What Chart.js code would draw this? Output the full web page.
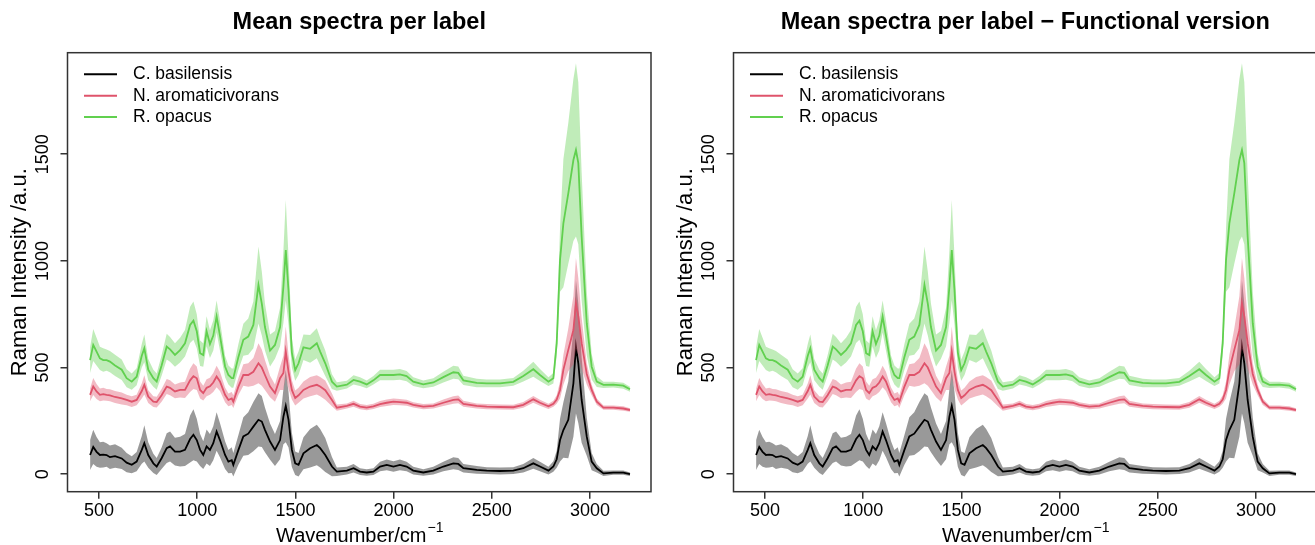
<!DOCTYPE html>
<html><head><meta charset="utf-8">
<script src="https://cdn.jsdelivr.net/npm/chart.js@4.4.1/dist/chart.umd.min.js"></script>
<style>
html,body{margin:0;padding:0;background:#fff;overflow:hidden;width:1315px;height:545px;position:relative;}
canvas{position:absolute;top:0;}
#c1{left:0px}
#c2{left:666px}
</style></head><body>
<canvas id="c1" width="667" height="545"></canvas>
<canvas id="c2" width="667" height="545"></canvas>
<script>
// ---------------- DATA ----------------
const wavenumbers = [455,471,488,505,522,539,556,582,616,641,667,692,718,731,751,777,794,819,845,862,887,913,938,964,981,998,1015,1031,1048,1065,1082,1099,1116,1142,1159,1176,1184,1210,1235,1260,1286,1312,1329,1345,1371,1396,1422,1439,1451,1465,1482,1499,1516,1541,1575,1609,1626,1652,1686,1711,1762,1796,1829,1863,1897,1931,1965,1999,2032,2066,2100,2151,2202,2253,2304,2329,2355,2423,2474,2541,2609,2660,2711,2745,2788,2813,2830,2847,2864,2889,2915,2928,2940,2957,2983,3008,3034,3068,3118,3169,3203];

const cBasilensisMean = [90,128,105,90,92,90,80,85,74,54,44,59,114,145,90,51,36,75,122,130,106,106,114,165,185,160,114,90,130,114,145,200,160,90,59,66,44,114,177,190,223,255,247,208,153,114,160,270,320,255,114,51,44,98,122,137,122,90,36,12,17,28,12,8,12,36,44,36,44,36,17,8,17,36,51,48,28,20,17,15,17,28,51,36,17,36,70,160,207,255,426,598,520,348,176,59,28,4,7,7,0];
const cBasilensisSd = [70,80,70,60,60,55,55,55,50,45,40,45,65,85,60,45,40,50,70,70,65,70,75,110,120,100,75,65,80,75,80,90,80,65,55,60,55,70,90,100,115,125,120,105,85,75,90,130,170,130,80,55,55,75,90,95,90,80,45,20,18,20,16,15,16,22,25,25,25,22,18,15,18,22,28,28,20,18,16,16,16,20,25,22,18,25,40,100,130,180,250,313,280,200,90,40,20,12,10,10,8];

const nAromaticivoransMean = [372,411,388,372,375,372,370,362,355,348,340,348,390,419,364,340,338,370,411,405,388,395,395,440,460,450,395,380,405,412,430,458,435,372,348,355,340,411,465,465,480,520,500,465,411,380,450,475,575,480,395,357,370,395,411,419,411,394,348,312,320,330,317,312,318,329,335,340,338,335,325,317,320,335,348,351,330,320,317,315,314,325,351,335,318,330,350,395,489,583,676,801,740,614,470,395,340,312,312,308,301];
const nAromaticivoransSd = [30,40,35,30,30,28,28,28,28,25,25,25,35,45,30,25,25,30,35,35,32,35,38,55,60,55,40,35,40,40,45,50,45,35,30,30,30,40,50,55,65,94,85,70,50,40,55,80,117,80,45,35,35,40,45,45,45,45,30,15,12,14,12,12,12,14,15,15,15,14,12,12,12,15,18,18,14,12,12,12,12,14,16,14,12,14,20,40,70,100,160,212,180,120,50,25,15,10,10,10,8];

const rOpacusMean = [535,606,575,543,535,535,528,510,490,450,434,457,555,590,490,450,434,510,598,585,559,582,614,700,720,670,567,559,670,610,650,739,650,505,465,450,450,550,630,645,700,887,800,690,580,606,690,880,1051,860,570,488,520,595,588,614,575,520,434,411,420,442,434,421,440,465,465,465,468,460,434,421,430,455,478,475,440,428,426,426,433,460,492,465,434,450,614,1005,1176,1317,1473,1520,1458,1114,708,504,434,419,420,415,398];
const rOpacusSd = [60,75,65,55,55,50,50,50,48,42,38,40,55,65,50,40,38,48,60,58,55,58,62,85,90,80,60,55,70,65,70,75,70,50,45,45,45,60,75,85,110,180,150,110,75,65,90,170,235,160,70,50,55,60,65,70,65,60,35,20,18,22,20,18,20,25,25,25,25,24,20,18,20,25,30,30,22,20,18,18,18,25,35,28,20,25,60,150,300,330,380,406,380,300,150,60,25,15,14,14,12];

const seriesNames = ['C. basilensis', 'N. aromaticivorans', 'R. opacus'];
const panelTitles = ['Mean spectra per label', 'Mean spectra per label \u2212 Functional version'];
const xTickValues = [500, 1000, 1500, 2000, 2500, 3000];
const yTickValues = [0, 500, 1000, 1500];
const yAxisTitle = 'Raman Intensity /a.u.';
const xAxisTitle = 'Wavenumber/cm';
const xAxisTitleSup = '\u22121';

// ---------------- STYLE ----------------
const lineColors = ['#000000', '#DF536B', '#61D04F'];
const bandColors = ['rgba(0,0,0,0.4)', 'rgba(223,83,107,0.4)', 'rgba(97,208,79,0.4)'];
const FONT = '"Liberation Sans", Arial, Helvetica, sans-serif';

function pts(vals) { return wavenumbers.map((w, i) => ({x: w, y: vals[i]})); }
function band(m, s, sign) { return wavenumbers.map((w, i) => ({x: w, y: m[i] + sign * s[i]})); }

const means = [cBasilensisMean, nAromaticivoransMean, rOpacusMean];
const sds = [cBasilensisSd, nAromaticivoransSd, rOpacusSd];

function buildDatasets() {
  const ds = [];
  for (let k = 2; k >= 0; k--) {
    ds.push({label: seriesNames[k], data: pts(means[k]), borderColor: lineColors[k], borderWidth: 1.8, pointRadius: 0, fill: false, tension: 0});
    ds.push({label: seriesNames[k] + ' upper', data: band(means[k], sds[k], 1), borderWidth: 0, borderColor: 'rgba(0,0,0,0)', backgroundColor: bandColors[k], pointRadius: 0, fill: '+1', tension: 0});
    ds.push({label: seriesNames[k] + ' lower', data: band(means[k], sds[k], -1), borderWidth: 0, borderColor: 'rgba(0,0,0,0)', pointRadius: 0, fill: false, tension: 0});
  }
  return ds;
}

const decorPlugin = {
  id: 'decor',
  afterDraw(chart, args, opts) {
    const ctx = chart.ctx, a = chart.chartArea;
    const ys = chart.scales.y;
    ctx.save();
    ctx.strokeStyle = '#333'; ctx.lineWidth = 1.5;
    ctx.strokeRect(a.left, a.top, a.right - a.left, a.bottom - a.top);
    ctx.fillStyle = '#000';
    ctx.textAlign = 'center'; ctx.textBaseline = 'middle';
    ctx.font = 'bold 23.5px ' + FONT;
    ctx.fillText(opts.title, (a.left + a.right) / 2, 23);
    ctx.font = '18px ' + FONT;
    yTickValues.forEach(v => {
      const y = ys.getPixelForValue(v);
      ctx.save(); ctx.translate(43, y); ctx.rotate(-Math.PI / 2);
      ctx.fillText(String(v), 0, 0); ctx.restore();
    });
    ctx.font = '22px ' + FONT;
    ctx.save(); ctx.translate(20, (a.top + a.bottom) / 2); ctx.rotate(-Math.PI / 2);
    ctx.fillText(yAxisTitle, 0, 0); ctx.restore();
    ctx.textBaseline = 'alphabetic'; ctx.textAlign = 'left';
    ctx.font = '20px ' + FONT;
    const wMain = ctx.measureText(xAxisTitle).width;
    ctx.font = '14px ' + FONT;
    const wSup = ctx.measureText(xAxisTitleSup).width;
    const x0 = (a.left + a.right) / 2 - (wMain + wSup) / 2;
    ctx.font = '20px ' + FONT;
    ctx.fillText(xAxisTitle, x0, 542);
    ctx.font = '14px ' + FONT;
    ctx.fillText(xAxisTitleSup, x0 + wMain + 1, 532);
    ctx.font = '17.5px ' + FONT;
    ctx.textBaseline = 'middle';
    for (let i = 0; i < 3; i++) {
      const y = 74.3 + i * 21.4;
      ctx.strokeStyle = lineColors[i]; ctx.lineWidth = 2;
      ctx.beginPath(); ctx.moveTo(84, y); ctx.lineTo(117, y); ctx.stroke();
      ctx.fillStyle = '#000';
      ctx.fillText(seriesNames[i], 133, y);
    }
    ctx.restore();
  }
};

function makeChart(id, title) {
  return new Chart(document.getElementById(id), {
    type: 'line',
    data: {datasets: buildDatasets()},
    plugins: [decorPlugin],
    options: {
      responsive: false, animation: false, devicePixelRatio: 1,
      layout: {padding: {top: 52.7, right: 16, bottom: 0, left: 0}},
      plugins: {legend: {display: false}, tooltip: {enabled: false}, title: {display: false},
        filler: {propagate: false}, decor: {title: title}},
      scales: {
        x: {type: 'linear', min: 340, max: 3310,
          afterBuildTicks: s => { s.ticks = xTickValues.map(v => ({value: v})); },
          afterFit: s => { s.height = 53.3; },
          border: {display: false},
          grid: {display: true, drawOnChartArea: false, drawTicks: true, tickLength: 7, color: '#333', lineWidth: 1.5},
          ticks: {color: '#000', font: {family: FONT, size: 18}, padding: 2, maxRotation: 0, autoSkip: false, callback: v => String(v)}
        },
        y: {type: 'linear', min: -82, max: 1976,
          afterBuildTicks: s => { s.ticks = yTickValues.map(v => ({value: v})); },
          afterFit: s => { s.width = 67.5; },
          border: {display: false},
          grid: {display: true, drawOnChartArea: false, drawTicks: true, tickLength: 7, color: '#333', lineWidth: 1.5},
          ticks: {display: false}
        }
      }
    }
  });
}
makeChart('c1', panelTitles[0]);
makeChart('c2', panelTitles[1]);
</script>
</body></html>
